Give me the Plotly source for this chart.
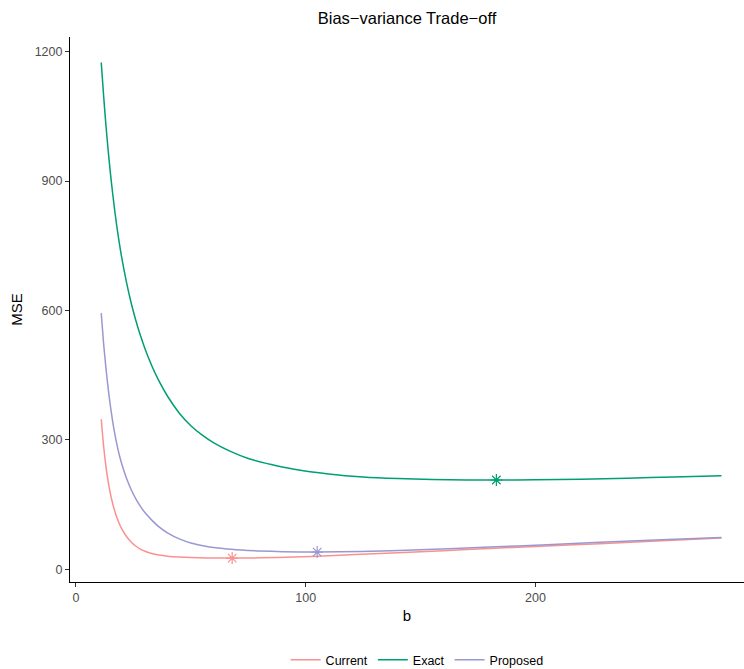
import plotly.graph_objects as go

# Mean squared error as a function of the tuning parameter b
b_exact = [11, 12, 13, 14, 15, 16, 17, 18, 20, 22, 24, 26, 28, 30, 33, 36, 40,
           45, 50, 55, 60, 67, 75, 85, 95, 110, 125, 140, 155, 170, 183, 200,
           220, 240, 260, 281]
mse_exact = [1175, 1100, 1032, 972, 918, 870, 826, 787, 720, 665, 618, 578, 543,
             512, 472, 438, 400, 362, 333, 311, 293, 274, 257, 243, 232, 221,
             214, 210.3, 208.3, 207.3, 207, 207.5, 209, 211.3, 214, 217]

b_current = [11, 12, 13, 14, 15, 16, 17, 18, 19, 20, 22, 24, 26, 28, 30, 33, 36,
             40, 45, 50, 57, 68, 80, 95, 110, 124, 140, 160, 180, 200, 228, 255,
             281]
mse_current = [348, 287, 240, 204, 175, 152, 133, 117, 104, 93, 76, 63.5, 54,
               47, 42, 36.5, 33, 30.2, 28.3, 27.2, 26.4, 26, 26.6, 28.5, 31.5,
               34.8, 38.5, 43.3, 48.2, 53, 59.5, 66, 72.8]

b_proposed = [11, 12, 13, 14, 15, 16, 17, 18, 19, 20, 22, 24, 26, 28, 30, 33,
              36, 40, 45, 50, 57, 64, 72, 80, 90, 105, 124, 150, 180, 205, 228,
              255, 281]
mse_proposed = [594, 525, 469, 420, 378, 342, 311, 285, 262, 243, 211, 185, 164,
                146.5, 131.5, 114, 99, 84, 70.5, 61, 53, 48.3, 44.8, 42.6, 41,
                40, 41.2, 45.5, 51.5, 57, 62.5, 68.5, 74]

# Location of each curve's minimum
min_b = [68, 183, 105]
min_mse = [26, 207, 40]

series = ["Current", "Exact", "Proposed"]
colors = ["#FA9191", "#009E73", "#9A98D0"]

fig = go.Figure()
for name, xs, ys, col in zip(series,
                             [b_current, b_exact, b_proposed],
                             [mse_current, mse_exact, mse_proposed],
                             colors):
    fig.add_trace(go.Scatter(x=xs, y=ys, mode="lines", name=name,
                             line=dict(color=col, width=1.5, shape="spline",
                                       smoothing=0.6)))

for name, bx, my, col in zip(series, min_b, min_mse, colors):
    fig.add_trace(go.Scatter(x=[bx], y=[my], mode="markers", showlegend=False,
                             name=name,
                             marker=dict(symbol="asterisk-open", size=10,
                                         color=col,
                                         line=dict(color=col, width=1.2))))

axis_common = dict(showgrid=False, zeroline=False, showline=True,
                   linecolor="black", linewidth=1.1, ticks="outside",
                   ticklen=4, tickwidth=1, tickcolor="#333333",
                   tickfont=dict(size=12.5, color="#4D4D4D"))

fig.update_layout(
    width=744, height=669,
    margin=dict(l=70, r=0, t=37, b=87, autoexpand=False),
    paper_bgcolor="white", plot_bgcolor="white",
    font=dict(family="Liberation Sans, Arial, sans-serif", color="black"),
    title=dict(text="Bias\u2212variance Trade\u2212off", x=0.5, xref="paper",
               xanchor="center", y=1 - 18 / 669, yanchor="middle",
               font=dict(size=16.5, color="black")),
    xaxis=dict(range=[-2.6, 290.8], tickvals=[0, 100, 200],
               title=dict(text="b", font=dict(size=15), standoff=6),
               **axis_common),
    yaxis=dict(range=[-29.4, 1234], tickvals=[0, 300, 600, 900, 1200],
               title=dict(text="MSE", font=dict(size=15), standoff=8),
               **axis_common),
    legend=dict(orientation="h", x=0.515, xanchor="center",
                yref="container", y=1 - 660 / 669, yanchor="middle",
                font=dict(size=12.5), itemwidth=30, traceorder="normal"),
)

fig.write_html("out.html")
